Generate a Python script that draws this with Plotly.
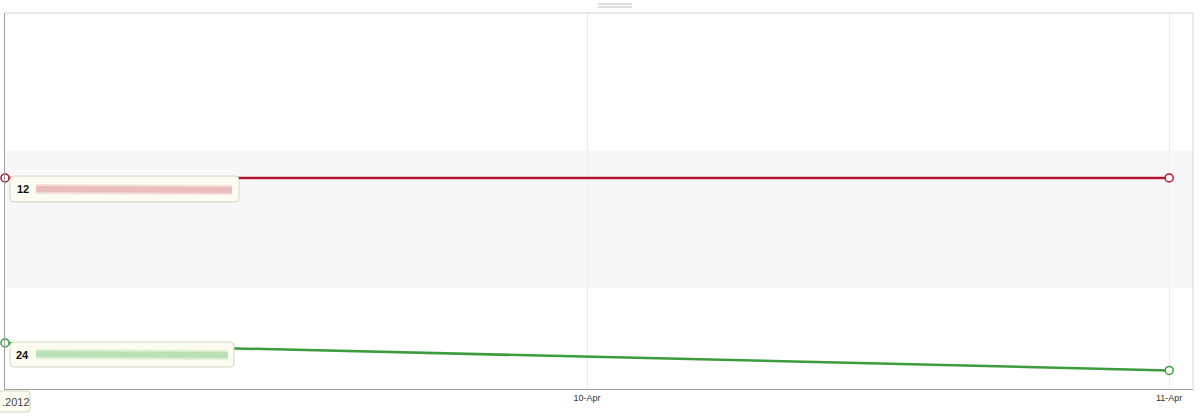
import plotly.graph_objects as go

# ---- data ----
dates = ["2012-04-09", "2012-04-11"]
red_values = [12, 12]
green_values = [24, 26]
red_label = "12"
green_label = "24"
tick_vals = ["2012-04-10", "2012-04-11"]
tick_text = ["10-Apr", "11-Apr"]
year_label = ".2012"
band_range = [10, 20]

W, H = 1200, 418
L, R, T, B = 5, 7, 13, 29
PW, PH = W - L - R, H - T - B


def px(x):
    return (x - L) / PW


def py(y):
    return 1 - (y - T) / PH


RED = "#b3152e"
GREEN = "#3c9c3c"

fig = go.Figure()
fig.add_trace(go.Scatter(
    x=dates, y=red_values, mode="lines+markers",
    line=dict(color=RED, width=2.5),
    marker=dict(symbol="circle", size=8, color="white", line=dict(color=RED, width=1.5)),
    cliponaxis=False, hoverinfo="skip", showlegend=False))
fig.add_trace(go.Scatter(
    x=dates, y=green_values, mode="lines+markers",
    line=dict(color=GREEN, width=2.5),
    marker=dict(symbol="circle", size=8, color="white", line=dict(color=GREEN, width=1.5)),
    cliponaxis=False, hoverinfo="skip", showlegend=False))

shapes = []
# light band
shapes.append(dict(type="rect", xref="paper", yref="y", x0=0, x1=1,
                   y0=band_range[0], y1=band_range[1],
                   fillcolor="#f7f7f7", line=dict(width=0), layer="below"))
# top and right border
shapes.append(dict(type="line", xref="paper", yref="paper", x0=0, x1=1, y0=1, y1=1,
                   line=dict(color="#cfcfcf", width=1)))
shapes.append(dict(type="line", xref="paper", yref="paper", x0=1, x1=1, y0=0, y1=1,
                   line=dict(color="#d8d8d8", width=1)))
# grab handle
for yy in (4, 7):
    shapes.append(dict(type="line", xref="paper", yref="paper",
                       x0=px(598), x1=px(632), y0=py(yy), y1=py(yy),
                       line=dict(color="#bdbdbd", width=1)))


def rounded_box(x0, y0, x1, y1, r, fill, border):
    p = (f"M {px(x0 + r)} {py(y0)} L {px(x1 - r)} {py(y0)} "
         f"Q {px(x1)} {py(y0)} {px(x1)} {py(y0 + r)} "
         f"L {px(x1)} {py(y1 - r)} Q {px(x1)} {py(y1)} {px(x1 - r)} {py(y1)} "
         f"L {px(x0 + r)} {py(y1)} Q {px(x0)} {py(y1)} {px(x0)} {py(y1 - r)} "
         f"L {px(x0)} {py(y0 + r)} Q {px(x0)} {py(y0)} {px(x0 + r)} {py(y0)} Z")
    return dict(type="path", xref="paper", yref="paper", path=p,
                fillcolor=fill, line=dict(color=border, width=1), layer="above")


shapes.append(rounded_box(10, 176, 239, 202, 4, "#fdfcf0", "#d5d3c4"))
shapes.append(rounded_box(10, 342, 234, 367, 4, "#fdfcf0", "#d5d3c4"))
shapes.append(rounded_box(-4, 391, 30, 412, 3, "#fdfcf0", "#d5d3c4"))


def blur(x0, x1, y, color):
    out = []
    for w, op in ((10, 0.2), (6, 0.3)):
        out.append(dict(type="line", xref="paper", yref="paper",
                        x0=px(x0), x1=px(x1), y0=py(y), y1=py(y + 1),
                        line=dict(color=color, width=w), opacity=op, layer="above"))
    return out


shapes += blur(36, 232, 189, "#d4707e")
shapes += blur(36, 228, 354, "#6cc06c")

annotations = [
    dict(xref="paper", yref="paper", x=px(15), y=py(189), text=f"<b>{red_label}</b>",
         showarrow=False, xanchor="left", yanchor="middle",
         font=dict(family="Liberation Sans, Arial", size=11, color="#111")),
    dict(xref="paper", yref="paper", x=px(14), y=py(355), text=f"<b>{green_label}</b>",
         showarrow=False, xanchor="left", yanchor="middle",
         font=dict(family="Liberation Sans, Arial", size=11, color="#111")),
    dict(xref="paper", yref="paper", x=px(0), y=py(402), text=year_label,
         showarrow=False, xanchor="left", yanchor="middle",
         font=dict(family="Liberation Sans, Arial", size=11, color="#444")),
]

fig.update_layout(
    width=W, height=H,
    margin=dict(l=L, r=R, t=T, b=B),
    paper_bgcolor="white", plot_bgcolor="white",
    shapes=shapes, annotations=annotations,
    xaxis=dict(type="date", range=["2012-04-09 00:00", "2012-04-11 00:59"],
               tickvals=tick_vals, ticktext=tick_text,
               showgrid=True, gridcolor="#ececec", gridwidth=1,
               showline=True, linecolor="#a0a0a0", linewidth=1,
               ticks="", ticklen=0,
               tickfont=dict(family="Liberation Sans, Arial", size=9, color="#333"),
               zeroline=False, fixedrange=True),
    yaxis=dict(range=[27.35, 0], showgrid=False, showticklabels=False,
               showline=True, linecolor="#a0a0a0", linewidth=1,
               zeroline=False, ticks="", fixedrange=True),
)

fig.write_html("out.html", config={"displayModeBar": False},
               post_script="document.body.style.margin='0';document.body.style.overflow='hidden';")
